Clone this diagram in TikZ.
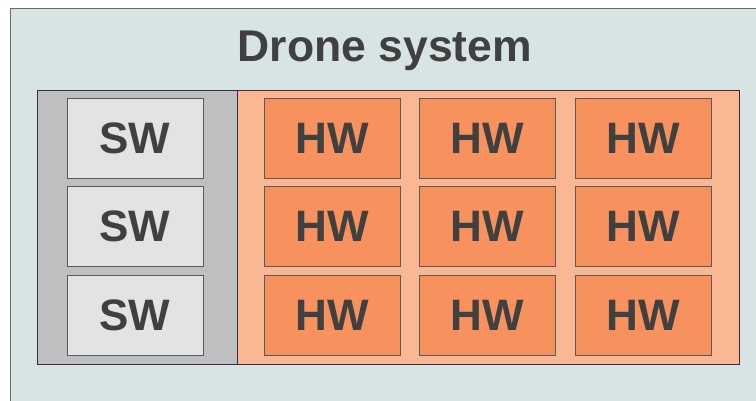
\documentclass[tikz,border=0pt]{standalone}
\usepackage{fontspec}
\setmainfont{Liberation Sans}
\definecolor{outerbg}{HTML}{D8E4E4}
\definecolor{outerln}{HTML}{6A6A6A}
\definecolor{swbg}{HTML}{BEBFC1}
\definecolor{swbox}{HTML}{E2E3E5}
\definecolor{hwbg}{HTML}{FAB794}
\definecolor{hwbox}{HTML}{F7915D}
\definecolor{txt}{HTML}{404040}
\definecolor{boxln}{HTML}{5A5A5A}
\definecolor{contln}{HTML}{3A2A3A}
\tikzset{
  cell/.style={draw=boxln, line width=1pt, minimum width=136pt, minimum height=80pt, inner sep=0pt,
    font=\fontsize{44}{44}\selectfont\bfseries, text=txt},
  swcell/.style={cell, fill=swbox},
  hwcell/.style={cell, fill=hwbox},
}
\begin{document}
\begin{tikzpicture}[x=1pt,y=-1pt]
\useasboundingbox (0,0) rectangle (756,400);
\clip (0,0) rectangle (756,400);
\fill[white] (0,0) rectangle (756,400);
\draw[outerln, fill=outerbg, line width=1pt] (10,8) rectangle (780,420);
\node[text=txt, anchor=base, inner sep=0pt, font=\fontsize{44.5}{44.5}\selectfont\bfseries] (title) at (385,61.5) {Drone system};
\draw[contln, fill=swbg, line width=1pt] (37,90) rectangle (237,364);
\draw[contln, fill=hwbg, line width=1pt] (237,90) rectangle (739,364);
\node[swcell] (sw1) at (135,138) {SW};
\node[swcell] (sw2) at (135,226.5) {SW};
\node[swcell] (sw3) at (135,315.5) {SW};
\foreach \c/\x in {1/332,2/487.5,3/643}{
  \node[hwcell] (hw1\c) at (\x,138) {HW};
  \node[hwcell] (hw2\c) at (\x,226.5) {HW};
  \node[hwcell] (hw3\c) at (\x,315.5) {HW};
}
\end{tikzpicture}
\end{document}
